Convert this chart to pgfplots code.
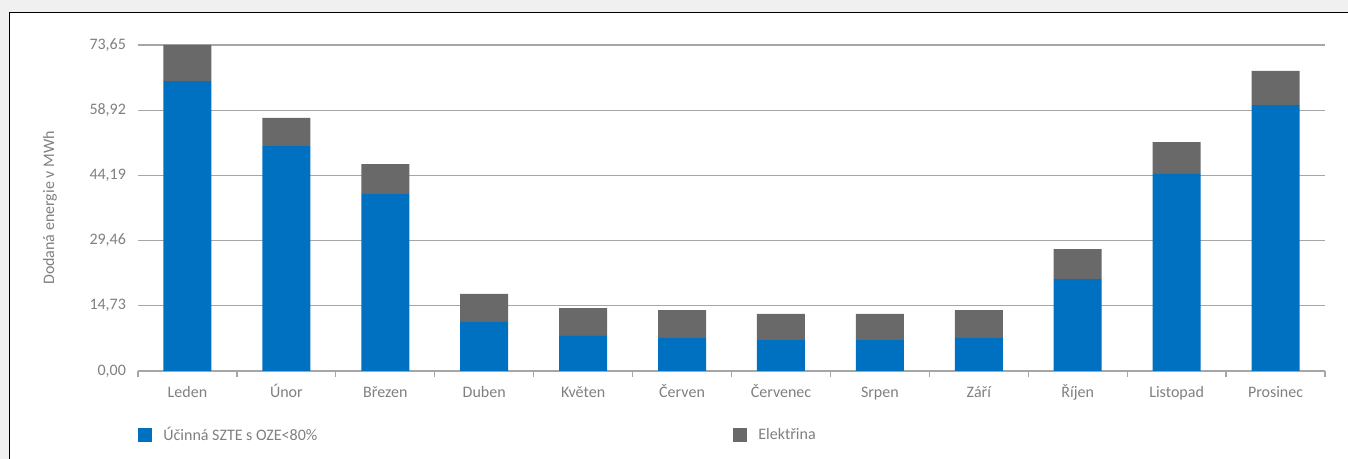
\documentclass[border=0pt]{standalone}
\usepackage{fontspec}
\setmainfont{Carlito}
\usepackage{pgfplots}
\pgfplotsset{compat=1.18}
\definecolor{cblue}{HTML}{0070C0}
\definecolor{cgray}{HTML}{696969}
\definecolor{txt}{HTML}{808080}
\definecolor{gridc}{HTML}{A6A6A6}
\definecolor{bg}{HTML}{F0F0F0}
\newcommand{\fs}{\fontsize{8}{9.6}\selectfont}

\begin{document}
\begin{tikzpicture}
\fill[bg] (0,0) rectangle (674pt,-229.5pt);
\useasboundingbox (0,0) rectangle (674pt,-229.5pt);
\fill[white] (4.75pt,-6.25pt) rectangle (674pt,-229.5pt);
\draw[black, line width=0.6pt] (4.75pt,-229.5pt) -- (4.75pt,-6.25pt) -- (674pt,-6.25pt);
\begin{axis}[
  at={(69pt,-185.5pt)}, anchor=south west,
  scale only axis, width=593.5pt, height=163pt,
  ybar stacked, bar width=24pt,
  xmin=-0.5, xmax=11.5, ymin=0, ymax=73.65,
  axis lines*=left,
  y axis line style={draw=none},
  x axis line style={gridc, line width=0.6pt},
  xtick={0,...,11},
  xticklabels={Leden,Únor,Březen,Duben,Květen,Červen,Červenec,Srpen,Září,Říjen,Listopad,Prosinec},
  minor xtick={-0.5,0.5,...,11.5},
  major tick length=0pt, minor tick length=3pt, tick align=outside,
  minor tick style={gridc, line width=0.6pt},
  ytick={0,14.73,29.46,44.19,58.92,73.65},
  yticklabels={{0,00},{14,73},{29,46},{44,19},{58,92},{73,65}},
  ymajorgrids, grid style={gridc, line width=0.6pt},
  tick label style={font=\fs, text=txt},
  xticklabel style={anchor=base, yshift=-13pt},
  yticklabel style={xshift=-2.5pt},
  ylabel={Dodaná energie v MWh},
  ylabel style={at={(axis description cs:-0.0741,0.5)}, anchor=center, font=\fs, text=txt},
  legend style={at={(0,0)}, anchor=west, yshift=-32pt, draw=none, fill=none,
    inner sep=0pt, font=\fs, text=txt, legend columns=2,
    /tikz/every odd column/.append style={column sep=3.5pt},
    /tikz/every even column/.append style={column sep=206pt}},
  legend image code/.code={\fill[#1] (0pt,-3.5pt) rectangle (7pt,3.5pt);},
]
\addplot[fill=cblue, draw=none] coordinates {
  (0,65.50) (1,50.83) (2,39.99) (3,11.07) (4,7.91) (5,7.46)
  (6,7.00) (7,7.00) (8,7.46) (9,20.78) (10,44.51) (11,60.09)
};
\addplot[fill=cgray, draw=none] coordinates {
  (0,8.15) (1,6.33) (2,6.77) (3,6.33) (4,6.32) (5,6.32)
  (6,5.88) (7,5.88) (8,6.32) (9,6.78) (10,7.22) (11,7.69)
};
\legend{Účinná SZTE s OZE<80\%, Elektřina}
\end{axis}
\end{tikzpicture}
\end{document}
